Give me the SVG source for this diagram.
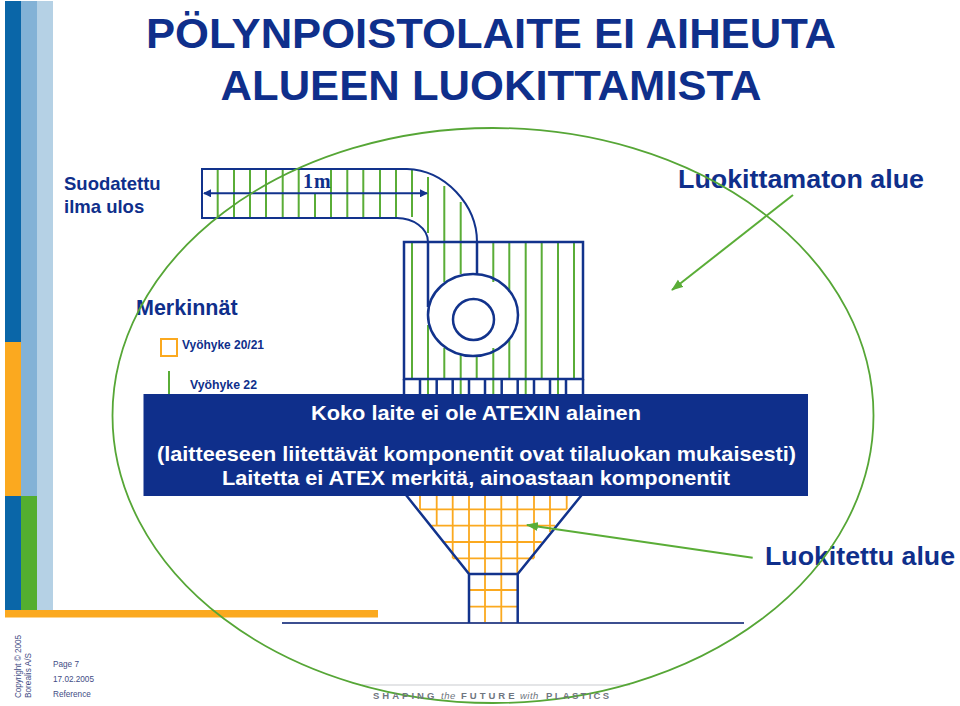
<svg xmlns="http://www.w3.org/2000/svg" width="960" height="706" viewBox="0 0 960 706">
<style>
text{font-family:"Liberation Sans",Arial,sans-serif;font-weight:bold;fill:#0f2f8b}
.navy{fill:none;stroke:#12338c;stroke-width:2}
.navy3{fill:none;stroke:#12338c;stroke-width:2.5}
.g{fill:none;stroke:#5aad37;stroke-width:2}
.o{fill:none;stroke:#fba91f;stroke-width:1.8}
.foot{font-weight:normal;fill:#3f4c85;font-size:8.2px}
.banner{fill:#fff;font-size:20.5px}
.tag{fill:#6f7680;font-size:9.5px;letter-spacing:3px}
.it{font-style:italic;font-weight:normal;letter-spacing:0.5px}
.tight{letter-spacing:2.3px}
</style>
<defs>
<marker id="dim" markerWidth="8" markerHeight="8" refX="7" refY="4" orient="auto-start-reverse" markerUnits="userSpaceOnUse"><path d="M0,0L8,4L0,8Z" fill="#12338c"/></marker>
<marker id="ga" markerWidth="12" markerHeight="10" refX="11" refY="5" orient="auto" markerUnits="userSpaceOnUse"><path d="M0,0.5L12,5L0,9.5Z" fill="#5aad37"/></marker>
</defs>
<rect width="960" height="706" fill="#fff"/>
<g id="frame">
<rect x="5" y="1" width="16" height="341" fill="#0a66a8"/>
<rect x="5" y="342" width="16" height="154" fill="#fba91f"/>
<rect x="5" y="496" width="16" height="114" fill="#0a66a8"/>
<rect x="21" y="1" width="16" height="495" fill="#83b2d6"/>
<rect x="21" y="496" width="16" height="114" fill="#53ae2f"/>
<rect x="37" y="1" width="16" height="609" fill="#b5d1e5"/>
<rect x="5" y="610" width="373" height="7.5" fill="#fba91f"/>
<rect x="282" y="622" width="462" height="2" fill="#3c4f90"/>
<rect x="362" y="684.500" width="268" height="1" fill="#c9ccd0"/>
</g>
<g id="title">
<text x="491" y="48" text-anchor="middle" font-size="43" textLength="690" lengthAdjust="spacingAndGlyphs">PÖLYNPOISTOLAITE EI AIHEUTA</text>
<text x="491" y="100" text-anchor="middle" font-size="43" textLength="541" lengthAdjust="spacingAndGlyphs">ALUEEN LUOKITTAMISTA</text>
</g>
<g id="labels">
<text x="64" y="190" font-size="18.500">Suodatettu</text>
<text x="64" y="213" font-size="18.500">ilma ulos</text>
<text x="678" y="188" font-size="26" textLength="246" lengthAdjust="spacingAndGlyphs">Luokittamaton alue</text>
<text x="765" y="565" font-size="25" textLength="190" lengthAdjust="spacingAndGlyphs">Luokitettu alue</text>
</g>
<g id="legend">
<text x="136" y="315" font-size="21.500">Merkinnät</text>
<rect x="161" y="339" width="16" height="17" fill="none" stroke="#fba91f" stroke-width="2"/>
<text x="182" y="349" font-size="12" textLength="82" lengthAdjust="spacingAndGlyphs">Vyöhyke 20/21</text>
<line x1="169" y1="371" x2="169" y2="396" class="g"/>
<text x="190" y="389" font-size="12" textLength="67" lengthAdjust="spacingAndGlyphs">Vyöhyke 22</text>
</g>
<g id="zone22-hatching">
<path class="g" d="M217.700 169V218M234 169V218M250 169V218M266 169V218M282.700 169V218M298.700 169V218M315 193V218M331 169V218M347.300 169V218M363.300 169V218M380 169V218M396 169V218M412 169V217M428 177V233M444.300 186V282M460.700 202V274M412 242V379M493.300 242V282M509.300 242V292M525.700 242V394M541.700 242V379M558 242V394M574 242V379M428 325V394M444.300 348V379M460.700 355V394M476.700 356V379M493.300 348V394M509.300 340V379"/>
</g>
<g id="zone20-hatching">
<path class="o" d="M420 495V509.300M436.700 495V525.700M452.700 495V558.300M469 495V574M485 495V622M501.300 495V622M517.300 495V574M534 495V558.300M550 495V532M566.700 495V509.300"/>
<path class="o" d="M420 509.300H566.700M431.700 525.700H555M443 542H541.700M452.700 558.300H534M469 590H517.700M469 606.700H517.700"/>
</g>
<g id="duct">
<path class="navy" d="M407 169H202V218H397C413 218 428 228 428 242"/>
<path class="navy" d="M407 169C445 170 477 205 477 242"/>
<line x1="204" y1="193.300" x2="427" y2="193.300" stroke="#12338c" stroke-width="2" marker-start="url(#dim)" marker-end="url(#dim)"/>
<text x="303" y="188" font-size="20" style="font-family:'Liberation Serif',serif" letter-spacing="1">1m</text>
</g>
<g id="fan">
<rect x="404" y="242" width="179" height="137" class="navy3"/>
<path class="navy3" d="M428 242V307M477 242V274"/>
<ellipse cx="473" cy="315" rx="45" ry="41" class="navy3"/>
<circle cx="473.500" cy="319.500" r="20.500" class="navy3"/>
</g>
<g id="filter">
<path class="navy3" d="M404 379V396M420 379V396M436.700 379V396M452.700 379V396M469 379V396M485 379V396M501.700 379V396M517.700 379V396M534 379V396M550 379V396M566 379V396M583 379V396"/>
</g>
<g id="hopper">
<path class="navy3" d="M406 495L469 574V623M581.700 495L517.700 574V623M469 574H517.700"/>
</g>
<g id="notice">
<rect x="143.500" y="394" width="664.500" height="102" fill="#0f2f8b"/>
<text class="banner" x="476" y="420" text-anchor="middle" textLength="330" lengthAdjust="spacingAndGlyphs">Koko laite ei ole ATEXIN alainen</text>
<text class="banner" x="476.500" y="460.500" text-anchor="middle" textLength="639" lengthAdjust="spacingAndGlyphs">(laitteeseen liitettävät komponentit ovat tilaluokan mukaisesti)</text>
<text class="banner" x="476" y="485" text-anchor="middle" textLength="508" lengthAdjust="spacingAndGlyphs">Laitetta ei ATEX merkitä, ainoastaan komponentit</text>
</g>
<g id="connectors">
<ellipse cx="493" cy="415.500" rx="380.500" ry="287.500" fill="none" stroke="#56a636" stroke-width="1.800"/>
<line x1="793" y1="195" x2="672" y2="290" class="g" marker-end="url(#ga)"/>
<line x1="752.700" y1="557.700" x2="527" y2="525" class="g" marker-end="url(#ga)"/>
</g>
<g id="footer">
<text class="foot" transform="translate(21 698) rotate(-90)" textLength="63">Copyright © 2005</text>
<text class="foot" transform="translate(31 698) rotate(-90)" textLength="45">Borealis A/S</text>
<text class="foot" x="53" y="667">Page 7</text>
<text class="foot" x="53" y="682">17.02.2005</text>
<text class="foot" x="53" y="697">Reference</text>
<text class="tag" y="699"><tspan x="373">SHAPING</tspan><tspan x="441" class="it">the</tspan><tspan x="461">FUTURE</tspan><tspan x="520" class="it">with</tspan><tspan x="546" class="tight">PLASTICS</tspan></text>
</g>
</svg>
